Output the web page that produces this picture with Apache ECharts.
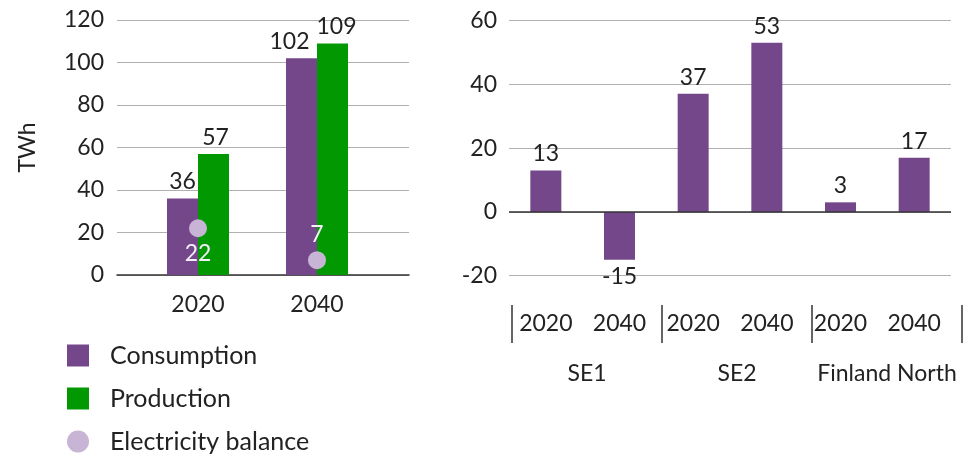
<!DOCTYPE html>
<html>
<head>
<meta charset="utf-8">
<script src="https://cdn.jsdelivr.net/npm/echarts@6/dist/echarts.min.js"></script>
<style>
	html, body { margin: 0; padding: 0; background: #fff; }
	#chart { width: 977px; height: 454px; }
</style>
</head>
<body>
<div id="chart"></div>
<script>
const years = ['2020', '2040']
const consumption = [36, 102]
const production = [57, 109]
const balance = [22, 7]

const regionYears = ['2020', '2040', '2020', '2040', '2020', '2040']
const regionBalance = [13, -15, 37, 53, 3, 17]
const regions = ['SE1', 'SE2', 'Finland North']

const leftTicks = { min: 0, max: 120, interval: 20 }
const rightTicks = { min: -20, max: 60, interval: 20 }

const legendItems = [
	{ name: 'Consumption', icon: 'rect' },
	{ name: 'Production', icon: 'rect' },
	{ name: 'Electricity balance', icon: 'circle' },
]

const FONT = 'Lato'
const TEXT = '#222'
const PURPLE = '#74478b'
const GREEN = '#029802'
const LILAC = '#c8b4d4'
const GRIDLINE = '#b0b0b0'

const chart = echarts.init(document.getElementById('chart'))

const hidden = { show: false }

// one legend per row, stacked like the original
const legends = legendItems.map((item, i) => ({
	orient: 'vertical',
	left: 67,
	top: 343 + i * 43,
	padding: 0,
	itemWidth: 22,
	itemHeight: 22,
	textStyle: { fontSize: 25, color: TEXT, fontFamily: FONT, padding: [0, 0, 0, 16] },
	data: [item],
}))

chart.setOption({
	animation: false,
	textStyle: { fontFamily: FONT },
	grid: [
		// left backdrop (ticks + lines)
		{ left: 117, right: 568, top: 20, bottom: 179 },
		// left bars
		{ left: 138.5, right: 600.5, top: 20, bottom: 179 },
		// right bars
		{ left: 509, right: 26, top: 20.5, bottom: 178.3 },
		// right group separators
		{ left: 512, right: 15, top: 305, bottom: 111 },
	],
	legend: legends,
	xAxis: [
		{
			gridIndex: 0, type: 'category', data: years,
			axisLine: { lineStyle: { color: '#333', width: 1.5 } },
			axisTick: hidden, axisLabel: hidden,
		},
		{
			gridIndex: 1, type: 'category', data: years,
			axisLine: hidden, axisTick: hidden,
			axisLabel: { fontSize: 23, color: TEXT, margin: 18 },
		},
		{
			gridIndex: 2, type: 'category', data: regionYears,
			axisLine: { show: false, onZero: false }, axisTick: hidden,
			axisLabel: { fontSize: 23, color: TEXT, margin: 36, interval: 0 },
		},
		{
			gridIndex: 3, type: 'category', data: regions,
			axisLine: hidden,
			axisTick: { show: true, inside: true, length: 38, interval: 0, lineStyle: { color: '#333', width: 1.5 } },
			axisLabel: { fontSize: 23, color: TEXT, margin: 19, interval: 0 },
		},
	],
	yAxis: [
		{
			gridIndex: 0, type: 'value', ...leftTicks,
			name: 'TWh', nameLocation: 'middle', nameGap: 78, nameRotate: 90,
			nameTextStyle: { fontSize: 23, color: TEXT },
			axisLine: hidden, axisTick: hidden,
			axisLabel: { fontSize: 23, color: TEXT, margin: 13 },
			splitLine: { lineStyle: { color: GRIDLINE, width: 1 } },
		},
		{
			gridIndex: 1, type: 'value', ...leftTicks,
			axisLine: hidden, axisTick: hidden, axisLabel: hidden, splitLine: hidden,
		},
		{
			gridIndex: 2, type: 'value', ...rightTicks,
			axisLine: hidden, axisTick: hidden,
			axisLabel: { fontSize: 23, color: TEXT, margin: 12 },
			splitLine: { lineStyle: { color: GRIDLINE, width: 1 } },
		},
		{
			gridIndex: 3, type: 'value', min: 0, max: 1,
			axisLine: hidden, axisTick: hidden, axisLabel: hidden, splitLine: hidden,
		},
	],
	series: [
		{
			name: 'Consumption', type: 'bar', xAxisIndex: 1, yAxisIndex: 1,
			barWidth: 31, barGap: '0%',
			itemStyle: { color: PURPLE },
			// 2040 label nudged left so it clears the production label
			data: consumption.map((v, i) => ({ value: v, label: { offset: [i === 1 ? -12 : 0, 0] } })),
			label: { show: true, position: 'top', fontSize: 23, color: TEXT },
		},
		{
			name: 'Production', type: 'bar', xAxisIndex: 1, yAxisIndex: 1,
			barWidth: 31, barGap: '0%',
			itemStyle: { color: GREEN },
			data: production.map((v, i) => ({ value: v, label: { offset: [i === 1 ? 4 : 2, 0] } })),
			label: { show: true, position: 'top', fontSize: 23, color: TEXT },
		},
		{
			name: 'Electricity balance', type: 'scatter', xAxisIndex: 1, yAxisIndex: 1,
			symbolSize: 18, z: 5,
			itemStyle: { color: LILAC, opacity: 1 },
			data: balance.map((v, i) => ({
				value: v,
				label: { position: i === 0 ? 'bottom' : 'top' },
			})),
			label: { show: true, fontSize: 23, color: '#f4eef8' },
		},
		{
			name: 'Regional balance', type: 'bar', xAxisIndex: 2, yAxisIndex: 2,
			barWidth: 31,
			itemStyle: { color: PURPLE },
			data: regionBalance.map(v => ({
				value: v,
				label: { position: v < 0 ? 'bottom' : 'top' },
			})),
			label: { show: true, fontSize: 23, color: TEXT },
			markLine: {
				silent: true, symbol: 'none',
				label: hidden,
				lineStyle: { color: '#333', width: 1.5, type: 'solid' },
				data: [{ yAxis: 0 }],
			},
		},
	],
})

window.addEventListener('resize', () => {
	chart.resize()
})
</script>
</body>
</html>
